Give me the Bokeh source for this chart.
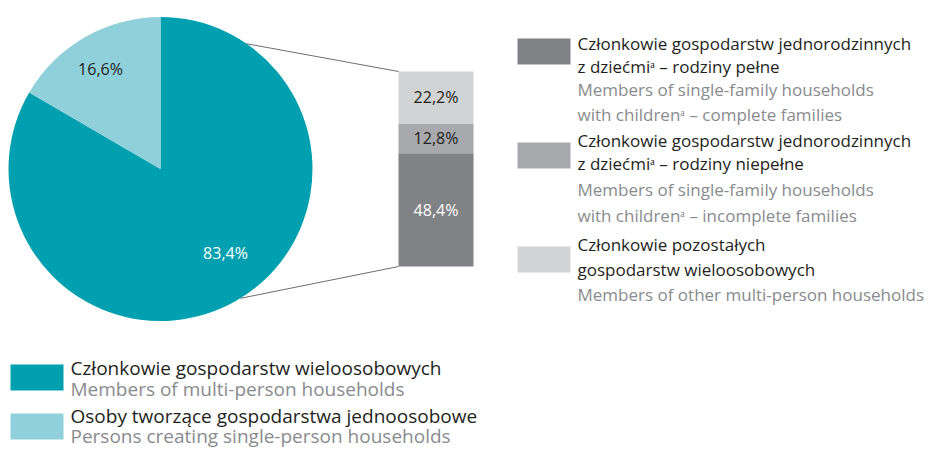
import math
from bokeh.plotting import figure
from bokeh.models import Range1d
from bokeh.core.properties import value
from bokeh.embed import file_html
from bokeh.resources import INLINE

# ---- data ----
pie_labels = ["Członkowie gospodarstw wieloosobowych", "Osoby tworzące gospodarstwa jednoosobowe"]
pie_values = [83.4, 16.6]
pie_texts = ["83,4%", "16,6%"]
pie_colors = ["#00A0B0", "#90D0DA"]

bar_values = [48.4, 12.8, 22.2]          # bottom -> top
bar_texts = ["48,4%", "12,8%", "22,2%"]
bar_colors = ["#808285", "#A7A9AC", "#D1D3D4"]
bar_text_colors = ["#FFFFFF", "#231F20", "#231F20"]

right_legend_pl = [
    ["Członkowie gospodarstw jednorodzinnych", "z dziećmiᵃ – rodziny pełne"],
    ["Członkowie gospodarstw jednorodzinnych", "z dziećmiᵃ – rodziny niepełne"],
    ["Członkowie pozostałych", "gospodarstw wieloosobowych"],
]
right_legend_en = [
    ["Members of single-family households", "with childrenᵃ – complete families"],
    ["Members of single-family households", "with childrenᵃ – incomplete families"],
    ["Members of other multi-person households"],
]
bottom_legend_pl = ["Członkowie gospodarstw wieloosobowych", "Osoby tworzące gospodarstwa jednoosobowe"]
bottom_legend_en = ["Members of multi-person households", "Persons creating single-person households"]

# ---- layout (screen px) ----
W, H = 927, 454
FONT = "Open Sans"
DARK = "#231F20"
GREY = "#898B8E"


def Y(sy):
    return H - sy


p = figure(width=W, height=H, output_backend="svg", toolbar_location=None,
           x_range=Range1d(0, W), y_range=Range1d(0, H),
           min_border=0, outline_line_color=None)
p.axis.visible = False
p.grid.visible = False
p.background_fill_color = "white"

# ---- pie ----
cx, cy, r = 160, Y(168.5), 152
total = sum(pie_values)
start = math.pi / 2 + 2 * math.pi * pie_values[1] / total
angles_start = [start, math.pi / 2]
angles_end = [math.pi / 2 + 2 * math.pi, start]
p.wedge(x=[cx, cx], y=[cy, cy], radius=r, start_angle=angles_start, end_angle=angles_end,
        fill_color=pie_colors, line_color=None, direction="anticlock")

# ---- stacked bar ----
bx0, bx1 = 398, 473
bottom0 = Y(266)
scale = 195.0 / pie_values[0]
bottoms, tops = [], []
acc = 0.0
for v in bar_values:
    bottoms.append(bottom0 + acc * scale)
    acc += v
    tops.append(bottom0 + acc * scale)
p.quad(left=bx0, right=bx1, bottom=bottoms, top=tops, fill_color=bar_colors, line_color=None)

# ---- connector lines ----
a_top = math.radians(90 - 34.5)
a_bot = math.radians(-90 + 31.7)
p.segment(x0=[cx + r * math.cos(a_top), cx + r * math.cos(a_bot)],
          y0=[cy + r * math.sin(a_top), cy + r * math.sin(a_bot)],
          x1=[bx0, bx0], y1=[tops[-1], bottoms[0]],
          line_color="#6D6E71", line_width=1)

# ---- labels ----
p.text(x=[225, 100], y=[Y(252), Y(68)], text=pie_texts, text_color=["#FFFFFF", DARK],
       text_font=value(FONT), text_font_size="16px", text_align="center", text_baseline="middle")
p.text(x=[(bx0 + bx1) / 2] * 3, y=[(b + t) / 2 for b, t in zip(bottoms, tops)], text=bar_texts,
       text_color=bar_text_colors, text_font=value(FONT), text_font_size="16px",
       text_align="center", text_baseline="middle")

# ---- right legend ----
sq_top = [38, 142, 246]
row_y = [[43, 66, 89, 114], [140, 163, 189, 215], [244, 269, 294]]
p.quad(left=517, right=570, top=[Y(t) for t in sq_top], bottom=[Y(t + 26) for t in sq_top],
       fill_color=["#808285", "#A7A9AC", "#D1D3D4"], line_color=None)
xs, ys, ts, cs = [], [], [], []
for i in range(3):
    lines = right_legend_pl[i] + right_legend_en[i]
    cols = [DARK] * len(right_legend_pl[i]) + [GREY] * len(right_legend_en[i])
    for ln, c, yy in zip(lines, cols, row_y[i]):
        xs.append(577); ys.append(Y(yy)); ts.append(ln); cs.append(c)
p.text(x=xs, y=ys, text=ts, text_color=cs, text_font=value(FONT), text_font_size="17px",
       text_align="left", text_baseline="middle")

# ---- bottom legend ----
bsq_top = [364, 413]
p.quad(left=10, right=63, top=[Y(t) for t in bsq_top], bottom=[Y(t + 26) for t in bsq_top],
       fill_color=pie_colors, line_color=None)
p.text(x=[70] * 4, y=[Y(367), Y(388), Y(415), Y(435)],
       text=[bottom_legend_pl[0], bottom_legend_en[0], bottom_legend_pl[1], bottom_legend_en[1]],
       text_color=[DARK, GREY, DARK, GREY], text_font=value(FONT), text_font_size="19px",
       text_align="left", text_baseline="middle")

open("out.html", "w").write(file_html(p, INLINE))
